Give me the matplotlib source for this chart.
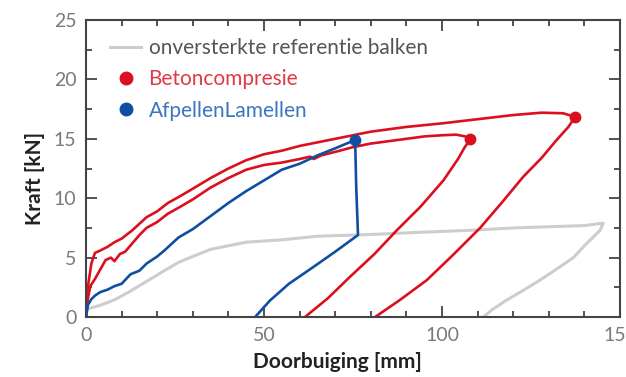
import matplotlib
matplotlib.use('Agg')
import matplotlib.pyplot as plt
from matplotlib.lines import Line2D
from matplotlib.ticker import MultipleLocator

plt.rcParams['font.family'] = ['Lato', 'DejaVu Sans']

RED = '#dc0f1e'
BLUE = '#0f4fa3'
GREY = '#cdcdcd'

# reference beam (unstrengthened), loading + unloading
ref_x = [0, 0.3, 1, 3, 5, 8, 12, 17, 22, 26, 30, 35, 40, 45, 50, 55, 65, 80, 95, 108,
         120, 130, 140, 145.3, 144.4, 140, 136.9, 132, 127.5, 122, 118, 114, 111.6]
ref_y = [0, 0.6, 0.75, 0.9, 1.1, 1.45, 2.1, 3.0, 3.9, 4.6, 5.1, 5.7, 6.0, 6.3, 6.4, 6.5, 6.8, 6.95, 7.15, 7.3,
         7.5, 7.6, 7.7, 7.9, 7.3, 6.0, 5.0, 4.0, 3.1, 2.1, 1.4, 0.6, 0]

# Betoncompresie, beam 1 (peak near 137 mm)
bc1_x = [0, 0.5, 1.5, 2.5, 4, 6, 8, 10, 13, 17, 20, 23, 26, 30, 35, 40, 45, 50, 55, 60,
         70, 80, 90, 100, 110, 120, 128, 134, 137.4,
         135.5, 132.2, 128, 122.8, 117, 110.7, 103, 95.7, 88, 81.2]
bc1_y = [0, 2.5, 4.5, 5.4, 5.6, 5.9, 6.3, 6.6, 7.3, 8.4, 8.9, 9.6, 10.1, 10.8, 11.7, 12.5, 13.2, 13.7, 14.0, 14.4,
         15.0, 15.6, 16.0, 16.3, 16.65, 17.0, 17.2, 17.15, 16.85,
         16.0, 14.9, 13.4, 11.8, 9.7, 7.5, 5.2, 3.1, 1.4, 0]

# Betoncompresie, beam 2 (peak near 108 mm)
bc2_x = [0, 0.5, 1.2, 2.5, 4, 5.5, 7, 8, 9.5, 11, 13, 15, 17, 20, 23, 26, 30, 35, 40, 45,
         50, 55, 60, 63, 64, 66, 70, 75, 80, 85, 90, 95, 100, 104, 106.5, 108,
         106.2, 104.5, 100.4, 94, 87.3, 81, 74.2, 68, 61.5]
bc2_y = [0, 1.5, 2.6, 3.2, 4.0, 4.8, 5.0, 4.7, 5.3, 5.5, 6.2, 6.9, 7.5, 8.0, 8.7, 9.2, 9.9, 10.9, 11.7, 12.4,
         12.8, 13.0, 13.3, 13.5, 13.3, 13.6, 13.9, 14.3, 14.6, 14.8, 15.0, 15.2, 15.3, 15.35, 15.2, 15.0,
         14.2, 13.3, 11.5, 9.3, 7.3, 5.3, 3.4, 1.6, 0]

# AfpellenLamellen
al_x = [0, 0.5, 1.5, 2.5, 4, 6, 8, 10, 12.5, 15, 17, 20, 22, 26, 30, 35, 40, 45, 50, 55,
        60, 65, 70, 75.6, 75.9, 76.4, 70, 63.8, 57, 51.7, 47.5]
al_y = [0, 1.0, 1.5, 1.8, 2.1, 2.3, 2.6, 2.8, 3.6, 3.9, 4.5, 5.1, 5.6, 6.7, 7.4, 8.5, 9.6, 10.6, 11.5, 12.4,
        12.9, 13.6, 14.2, 14.9, 11.0, 6.9, 5.5, 4.2, 2.8, 1.4, 0]

peaks_bc = ([137.4, 108], [16.85, 15.0])
peaks_al = ([75.6], [14.9])

fig = plt.figure(figsize=(6.26, 3.77), dpi=100)
ax = fig.add_axes([0.1374, 0.159, 0.853, 0.788])

ax.plot(ref_x, ref_y, color=GREY, lw=2.2, zorder=1)
ax.plot(bc1_x, bc1_y, color=RED, lw=1.9, zorder=2)
ax.plot(bc2_x, bc2_y, color=RED, lw=1.9, zorder=2)
ax.plot(al_x, al_y, color=BLUE, lw=1.9, zorder=3)
ax.plot(*peaks_bc, 'o', color=RED, ms=7.5, zorder=4)
ax.plot(*peaks_al, 'o', color=BLUE, ms=7.5, zorder=4)

ax.set_xlim(0, 150)
ax.set_ylim(0, 25)
ax.xaxis.set_major_locator(MultipleLocator(50))
ax.xaxis.set_minor_locator(MultipleLocator(10))
ax.yaxis.set_major_locator(MultipleLocator(5))
ax.yaxis.set_minor_locator(MultipleLocator(2.5))
ax.tick_params(which='both', direction='in', top=True, right=True, colors='#444444',
               labelcolor='#7a7a7a', labelsize=14, width=1.3)
ax.tick_params(which='major', length=8, pad=7)
ax.tick_params(which='minor', length=4)
for s in ax.spines.values():
    s.set_color('#444444')
    s.set_linewidth(1.5)

ax.set_xlabel('Doorbuiging [mm]', fontsize=15, fontweight='bold', color='#222222', va='center')
ax.set_ylabel('Kraft [kN]', fontsize=15, fontweight='bold', color='#222222', va='center')
ax.xaxis.set_label_coords(0.471, -0.152)
ax.yaxis.set_label_coords(-0.0955, 0.468)

handles = [Line2D([], [], color=GREY, lw=2.2),
           Line2D([], [], color=RED, marker='o', ls='none', ms=9),
           Line2D([], [], color=BLUE, marker='o', ls='none', ms=9)]
labels = ['onversterkte referentie balken', 'Betoncompresie', 'AfpellenLamellen']
leg = ax.legend(handles, labels, loc='upper left', bbox_to_anchor=(0.045, 0.94), frameon=False,
                fontsize=15, handlelength=1.5, handletextpad=0.35, labelspacing=0.55,
                borderpad=0, borderaxespad=0)
for t, c in zip(leg.get_texts(), ['#555555', '#e03a45', '#3a76c0']):
    t.set_color(c)

fig.savefig('out.png', dpi=100)
